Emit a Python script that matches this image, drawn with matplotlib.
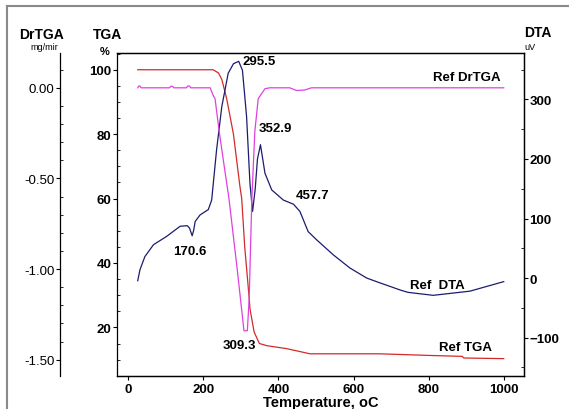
import matplotlib
matplotlib.use("Agg")
import matplotlib.pyplot as plt
from matplotlib.lines import Line2D
from matplotlib.ticker import AutoMinorLocator

plt.rcParams["font.family"] = ["Liberation Sans", "DejaVu Sans"]

# TGA (%) vs temperature (oC)
tga_t = [25, 100, 200, 226, 240, 249, 262, 280, 297, 302, 310, 322, 324, 335, 349, 370,
         422, 484, 600, 670, 801, 890, 893, 1000]
tga_v = [100, 100, 100, 100, 99, 97, 91, 80, 64, 60, 45, 29, 25.8, 18.6, 15, 14.3,
         13.4, 11.8, 11.8, 11.8, 11.3, 11.0, 10.5, 10.3]

# DrTGA (mg/min)
drtga_t = [25, 28, 31, 34, 110, 113, 118, 121, 155, 158, 163, 166, 218, 226, 231, 242,
           255, 268, 290, 308, 317, 322, 329, 337, 346, 364, 377, 430, 448, 470, 488, 1000]
drtga_v = [0, 0.01, 0.01, 0, 0, 0.008, 0.008, 0, 0, 0.01, 0.01, 0, 0, -0.042, -0.06, -0.24,
           -0.427, -0.61, -1.0, -1.34, -1.34, -1.16, -0.61, -0.24, -0.06, -0.005, 0, 0,
           -0.015, -0.012, 0, 0]

# DTA (uV)
dta_t = [25, 31, 44, 67, 102, 138, 157, 163, 170, 174, 178, 191, 213, 222, 235, 249, 266,
         280, 294, 304, 315, 324, 331, 338, 344, 352, 364, 382, 413, 440, 457, 479, 502,
         546, 590, 635, 670, 697, 724, 745, 812, 910, 1000]
dta_v = [-4.5, 14, 36, 56, 70, 87, 88, 84, 71, 80, 95, 106, 115, 131, 215, 288, 344,
         360, 364, 349, 271, 159, 112, 150, 200, 224, 176, 148, 131, 124, 112, 78, 64,
         39, 17, 0, -8, -14, -20, -24, -29, -22, -6]

# peak labels (text, T, DTA-axis y)
peak_text = ["295.5", "352.9", "457.7", "170.6", "309.3"]
peak_x = [305, 348, 446, 119, 250]
peak_y = [365, 252, 140, 45, -113]

C_TGA = "#d42a2a"
C_DR = "#e040e0"
C_DTA = "#1c1c6e"
FS = 9.5

fig = plt.figure(figsize=(5.69, 4.10), dpi=100)
ax = fig.add_axes([0.2051, 0.0812, 0.7158, 0.7871])
ax_dta = ax.twinx()
ax_dr = ax.twinx()

ax.plot(tga_t, tga_v, color=C_TGA, lw=0.9)
ax_dr.plot(drtga_t, drtga_v, color=C_DR, lw=0.9)
ax_dta.plot(dta_t, dta_v, color=C_DTA, lw=0.9)

ax.set_xlim(-31, 1054)
ax.set_ylim(5, 105.2)
ax_dr.set_ylim(-1.588, 0.192)
ax_dta.set_ylim(-164, 378)

ax.set_xticks([0, 200, 400, 600, 800, 1000])
ax.set_yticks([20, 40, 60, 80, 100])
ax.yaxis.set_minor_locator(AutoMinorLocator(4))
ax_dr.set_yticks([0.0, -0.5, -1.0, -1.5])
ax_dr.set_yticklabels(["0.00", "-0.50", "-1.00", "-1.50"])
ax_dr.yaxis.set_minor_locator(AutoMinorLocator(5))
ax_dta.set_yticks([-100, 0, 100, 200, 300])
ax_dta.yaxis.set_minor_locator(AutoMinorLocator(2))

for a in (ax, ax_dta, ax_dr):
    a.tick_params(which="major", direction="out", length=3, width=0.8, pad=1,
                  labelsize=FS)
    a.tick_params(which="minor", direction="in", length=2, width=0.6)
    for lab in a.get_xticklabels() + a.get_yticklabels():
        lab.set_fontweight("bold")

ax.tick_params(axis="x", pad=2)

# DrTGA axis pulled out to the left
ax_dr.spines["left"].set_position(("axes", -0.139))
ax_dr.spines["left"].set_visible(True)
for s in ("right", "top", "bottom"):
    ax_dr.spines[s].set_visible(False)
ax_dr.yaxis.set_ticks_position("left")
ax_dr.yaxis.set_label_position("left")
ax_dta.spines["left"].set_visible(False)

for a in (ax, ax_dta, ax_dr):
    for s in a.spines.values():
        s.set_linewidth(0.9)

ax.set_xlabel("Temperature, oC", fontsize=10.5, fontweight="bold", labelpad=0)

for txt, x, y in zip(peak_text, peak_x, peak_y):
    ax_dta.text(x, y, txt, fontsize=FS, fontweight="bold", ha="left", va="center")

ax_dta.text(811, 338, "Ref DrTGA", fontsize=FS, fontweight="bold", ha="left", va="center")
ax_dta.text(750, -11, "Ref  DTA", fontsize=FS, fontweight="bold", ha="left", va="center")
ax_dta.text(827, -116, "Ref TGA", fontsize=FS, fontweight="bold", ha="left", va="center")

# axis titles
fig.text(0.0738, 0.9146, "DrTGA", fontsize=10, fontweight="bold", ha="center", va="center")
fig.text(0.0773, 0.883, "mg/mir", fontsize=6.5, ha="center", va="center")
fig.text(0.189, 0.9146, "TGA", fontsize=10, fontweight="bold", ha="center", va="center")
fig.text(0.1845, 0.874, "%", fontsize=8, fontweight="bold", ha="center", va="center")
fig.text(0.9446, 0.9195, "DTA", fontsize=10, fontweight="bold", ha="center", va="center")
fig.text(0.921, 0.883, "uV", fontsize=6.5, ha="left", va="center")

# outer grey frame: only left and top edges show
fx, fy = 7 / 569, 1 - 6.5 / 410
fig.add_artist(Line2D([fx, fx], [0, fy], transform=fig.transFigure, color="#8a8a8a", lw=1.5))
fig.add_artist(Line2D([fx, 1], [fy, fy], transform=fig.transFigure, color="#8a8a8a", lw=1.5))

fig.savefig("out.png", dpi=100)
